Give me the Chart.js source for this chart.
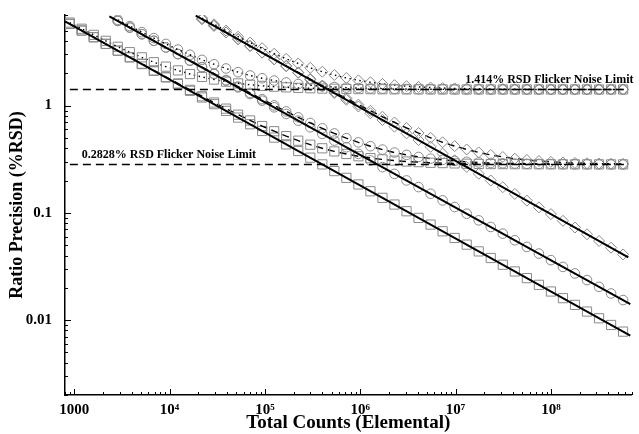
<!DOCTYPE html>
<html><head><meta charset="utf-8">
<script src="https://cdn.jsdelivr.net/npm/chart.js@4"></script>
<style>html,body{margin:0;padding:0;background:#fff;}#wrap{width:639px;height:434px;}</style>
</head><body><div id="wrap"><canvas id="c" width="639" height="434"></canvas></div>
<script>
// ---- data ----
const counts = [895,1197,1601,2140,2861,3826,5117,6843,9150,12236,16363,21878,29255,39120,52311,69950,93540,125080,167260,223660,299090,399950,534810,715160,956310,1278800,1710000,2286700,3057800,4088900,5467700,7311400,9777000,13074000,17482000,23378000,31261000,41803000,55899000,74749000,99954000,133660000,178730000,239000000,319590000,427360000,571480000];
const circleStart = 4;
const diamondStart = 11;

const sqPure = [5.78,5.01,4.34,3.76,3.25,2.82,2.44,2.11,1.83,1.59,1.374,1.190,1.031,0.893,0.773,0.670,0.580,0.503,0.435,0.377,0.327,0.283,0.245,0.212,0.184,0.159,0.138,0.1195,0.1035,0.0897,0.0777,0.0673,0.0583,0.0505,0.0437,0.0379,0.0328,0.0284,0.0246,0.0213,0.01846,0.0160,0.01385,0.0120,0.01039,0.0090,0.0078];
const sqHigh = [5.95,5.21,4.57,4.02,3.54,3.15,2.82,2.54,2.31,2.13,1.97,1.85,1.75,1.672,1.612,1.565,1.528,1.501,1.480,1.464,1.452,1.442,1.435,1.430,1.426,1.423,1.421,1.419,1.418,1.417,1.416,1.416,1.415,1.415,1.415,1.414,1.414,1.414,1.414,1.414,1.414,1.414,1.414,1.414,1.414,1.414,1.414];
const sqLow = [5.79,5.02,4.35,3.77,3.26,2.83,2.46,2.13,1.85,1.61,1.403,1.223,1.069,0.937,0.823,0.727,0.645,0.577,0.519,0.471,0.432,0.400,0.374,0.354,0.337,0.324,0.315,0.307,0.301,0.297,0.293,0.291,0.289,0.287,0.286,0.285,0.2847,0.2842,0.2839,0.2836,0.2834,0.2833,0.2831,0.283,0.283,0.283,0.283];

const ciPure = [6.16,5.34,4.63,4.02,3.48,3.02,2.62,2.27,1.97,1.71,1.479,1.282,1.112,0.964,0.836,0.724,0.628,0.545,0.472,0.409,0.355,0.308,0.267,0.231,0.2005,0.1738,0.1507,0.1306,0.1133,0.0982,0.0851,0.0738,0.0640,0.0555,0.0481,0.0417,0.0362,0.0313,0.0272,0.0236,0.0204,0.0177,0.01536];
const ciHigh = [6.32,5.52,4.84,4.26,3.76,3.33,2.98,2.67,2.43,2.22,2.05,1.91,1.80,1.711,1.643,1.589,1.547,1.516,1.491,1.472,1.458,1.447,1.439,1.433,1.428,1.425,1.422,1.420,1.419,1.418,1.417,1.416,1.416,1.415,1.415,1.415,1.414,1.414,1.414,1.414,1.414,1.414,1.414];
const ciLow = [6.17,5.35,4.64,4.03,3.49,3.03,2.64,2.29,1.99,1.73,1.506,1.313,1.148,1.005,0.883,0.777,0.689,0.614,0.550,0.497,0.454,0.418,0.389,0.365,0.347,0.332,0.320,0.312,0.305,0.299,0.295,0.292,0.290,0.288,0.287,0.286,0.2851,0.2845,0.2841,0.2838,0.2835,0.2834,0.2832];

const diPure = [6.41,5.55,4.81,4.16,3.60,3.12,2.70,2.33,2.02,1.748,1.514,1.310,1.134,0.981,0.849,0.735,0.636,0.551,0.477,0.413,0.357,0.309,0.268,0.2315,0.2003,0.1734,0.1502,0.1300,0.1124,0.0973,0.0842,0.0729,0.0631,0.0546,0.0473,0.0409];
const diHigh = [6.56,5.73,5.01,4.39,3.87,3.43,3.05,2.73,2.47,2.25,2.07,1.93,1.81,1.721,1.650,1.594,1.551,1.518,1.493,1.473,1.459,1.448,1.440,1.433,1.428,1.425,1.422,1.420,1.418,1.417,1.417,1.416,1.415,1.415,1.415,1.415];
const diLow = [6.42,5.56,4.82,4.17,3.61,3.13,2.71,2.35,2.04,1.771,1.540,1.340,1.169,1.021,0.895,0.787,0.696,0.619,0.555,0.501,0.455,0.419,0.390,0.366,0.347,0.332,0.320,0.311,0.304,0.299,0.295,0.292,0.290,0.288,0.287,0.286];

// fitted counting-statistics lines (end points)
const fitSqX = [800, 680000000],   fitSqY = [6.11, 0.00715];
const fitCiX = [2337, 680000000],  fitCiY = [6.81, 0.0141];
const fitDiX = [18800, 648000000], fitDiY = [6.9, 0.0385];

const limitValues = [1.414, 0.2828];
const limitRange = [900, 650000000];
const limitLabels = ['1.414% RSD Flicker Noise Limit', '0.2828% RSD Flicker Noise Limit'];

const xTickValues = [1000, 1e4, 1e5, 1e6, 1e7, 1e8];
const xTickLabels = ['1000', '10\u2074', '10\u2075', '10\u2076', '10\u2077', '10\u2078'];
const yTickValues = [0.01, 0.1, 1];
const yTickLabels = ['0.01', '0.1', '1'];

// ---- build ----
const SERIF = '"Liberation Serif", "DejaVu Serif", serif';
const MARK = '#8a8a8a';
const pts = (xs, ys) => ys.map((v, i) => ({x: xs[i], y: v}));
const xsFrom = (start) => counts.slice(start);

function markerSet(data, style, radius, line) {
  const ds = {
    data, showLine: !!line, pointStyle: style, pointRadius: radius, pointHoverRadius: radius,
    pointBorderColor: MARK, pointBackgroundColor: 'rgba(0,0,0,0)', pointBorderWidth: 1,
    borderColor: '#000', borderWidth: 1.4, tension: 0, fill: false
  };
  if (line) ds.borderDash = line;
  return ds;
}
const fitSet = (xs, ys) => ({data: pts(xs, ys), showLine: true, pointRadius: 0, borderColor: '#000', borderWidth: 2, fill: false});
const limitSet = (v) => ({data: [{x: limitRange[0], y: v}, {x: limitRange[1], y: v}], showLine: true, pointRadius: 0, borderColor: '#000', borderWidth: 1.4, borderDash: [8, 5], fill: false});

const DOT = [1.5, 3.5], DASH = [7, 5];
const datasets = [
  fitSet(fitSqX, fitSqY), fitSet(fitCiX, fitCiY), fitSet(fitDiX, fitDiY),
  limitSet(limitValues[0]), limitSet(limitValues[1]),
  markerSet(pts(counts, sqHigh), 'rect', 6.5, DOT),
  markerSet(pts(counts, sqLow), 'rect', 6.5, DASH),
  markerSet(pts(xsFrom(circleStart), ciHigh), 'circle', 4.8, DOT),
  markerSet(pts(xsFrom(circleStart), ciLow), 'circle', 4.8, DASH),
  markerSet(pts(xsFrom(diamondStart), diHigh), 'rectRot', 5.5, DOT),
  markerSet(pts(xsFrom(diamondStart), diLow), 'rectRot', 5.5, DASH),
  markerSet(pts(counts, sqPure), 'rect', 6.5, null),
  markerSet(pts(xsFrom(circleStart), ciPure), 'circle', 4.8, null),
  markerSet(pts(xsFrom(diamondStart), diPure), 'rectRot', 5.5, null)
];

const decor = {
  id: 'decor',
  afterDraw(chart) {
    const {ctx, chartArea: ca, scales: {x, y}} = chart;
    ctx.save();
    ctx.strokeStyle = '#000'; ctx.lineWidth = 1;
    for (let e = 2; e <= 8; e++) for (let m = 1; m <= 9; m++) {
      const v = m * Math.pow(10, e);
      if (v < x.min || v > x.max) continue;
      const px = Math.round(x.getPixelForValue(v)) + 0.5;
      const len = m === 1 ? 6 : 3;
      ctx.beginPath(); ctx.moveTo(px, ca.bottom); ctx.lineTo(px, ca.bottom - len); ctx.stroke();
    }
    for (let e = -3; e <= 0; e++) for (let m = 1; m <= 9; m++) {
      const v = m * Math.pow(10, e);
      if (v < y.min || v > y.max) continue;
      const py = Math.round(y.getPixelForValue(v)) + 0.5;
      const len = m === 1 ? 6 : 3;
      ctx.beginPath(); ctx.moveTo(ca.left, py); ctx.lineTo(ca.left + len, py); ctx.stroke();
    }
    ctx.fillStyle = '#000';
    ctx.font = 'bold 12px ' + SERIF;
    ctx.textBaseline = 'alphabetic';
    ctx.textAlign = 'right';
    ctx.fillText(limitLabels[0], ca.right + 2, y.getPixelForValue(limitValues[0]) - 6);
    ctx.textAlign = 'left';
    ctx.fillText(limitLabels[1], x.getPixelForValue(1200), y.getPixelForValue(limitValues[1]) - 6);
    ctx.restore();
  }
};

new Chart(document.getElementById('c'), {
  type: 'scatter',
  data: {datasets},
  plugins: [decor],
  options: {
    responsive: false, animation: false, devicePixelRatio: 1, events: [],
    layout: {padding: {left: 5, right: 4, top: 15, bottom: 0}},
    plugins: {legend: {display: false}, tooltip: {enabled: false}},
    scales: {
      x: {
        type: 'logarithmic', position: 'bottom', min: 800, max: 7e8,
        grid: {display: false, drawTicks: false},
        border: {display: true, color: '#000', width: 1.5},
        afterBuildTicks: s => { s.ticks = xTickValues.map(v => ({value: v, major: true})); },
        afterFit: s => { s.height = 39; s.paddingLeft = 0; s.paddingRight = 0; s.paddingTop = 0; s.paddingBottom = 0; },
        ticks: {color: '#000', padding: 6, autoSkip: false, maxRotation: 0,
          font: {family: SERIF, size: 15, weight: 'bold'},
          callback: v => { const i = xTickValues.indexOf(v); return i < 0 ? '' : xTickLabels[i]; }},
        title: {display: true, text: 'Total Counts (Elemental)', color: '#000', padding: 0,
          font: {family: SERIF, size: 19, weight: 'bold'}}
      },
      y: {
        type: 'logarithmic', position: 'left', min: 0.002, max: 7,
        grid: {display: false, drawTicks: false},
        border: {display: true, color: '#000', width: 1.5},
        afterBuildTicks: s => { s.ticks = yTickValues.map(v => ({value: v, major: true})); },
        afterFit: s => { s.width = 60; s.paddingLeft = 0; s.paddingRight = 0; s.paddingTop = 0; s.paddingBottom = 0; },
        ticks: {color: '#000', padding: 13, autoSkip: false,
          font: {family: SERIF, size: 15, weight: 'bold'},
          callback: v => { const i = yTickValues.indexOf(v); return i < 0 ? '' : yTickLabels[i]; }},
        title: {display: true, text: 'Ratio Precision (%RSD)', color: '#000', padding: {top: 2, bottom: 0},
          font: {family: SERIF, size: 18, weight: 'bold'}}
      }
    }
  }
});
</script></body></html>
